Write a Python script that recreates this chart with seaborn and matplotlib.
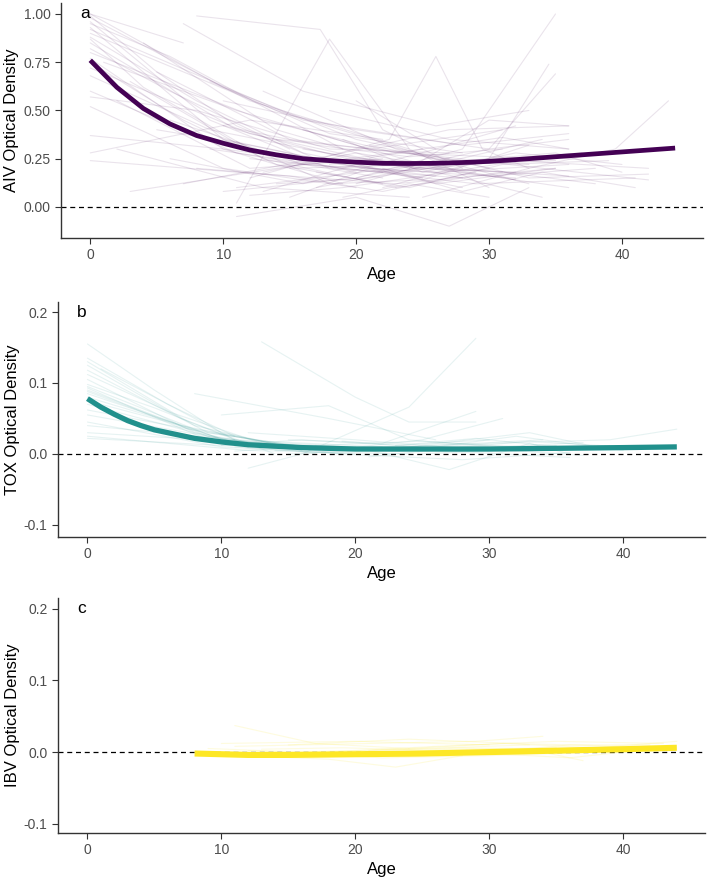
import pandas as pd
import matplotlib
matplotlib.use('Agg')
import matplotlib.pyplot as plt
import seaborn as sns
from matplotlib.ticker import FormatStrFormatter

# individual trajectories (age, optical density)
aiv_tracks = [
    [(0, 1.00), (7, 0.85)],
    [(0, 1.00), (10, 0.62), (20, 0.35), (30, 0.20)],
    [(0, 0.98), (12, 0.55), (24, 0.30)],
    [(0, 0.96), (9, 0.45), (18, 0.20), (28, 0.15)],
    [(0, 0.93), (10, 0.35), (22, 0.18)],
    [(0, 0.90), (14, 0.50), (26, 0.25), (33, 0.22)],
    [(0, 0.88), (8, 0.55), (16, 0.28), (25, 0.15)],
    [(0, 0.85), (11, 0.40), (21, 0.22), (31, 0.18)],
    [(0, 0.82), (6, 0.60), (15, 0.30)],
    [(0, 0.80), (13, 0.45), (23, 0.28), (34, 0.25)],
    [(0, 0.77), (10, 0.30), (19, 0.12)],
    [(0, 0.72), (12, 0.38), (24, 0.20)],
    [(0, 0.68), (9, 0.40), (20, 0.25), (29, 0.22)],
    [(0, 0.60), (11, 0.28), (22, 0.15)],
    [(0, 0.57), (8, 0.50), (18, 0.30), (27, 0.28)],
    [(0, 0.52), (10, 0.20), (20, 0.10)],
    [(0, 0.37), (10, 0.30), (21, 0.20), (32, 0.15)],
    [(0, 0.28), (12, 0.45), (22, 0.35)],
    [(0, 0.24), (11, 0.18), (23, 0.12), (35, 0.20)],
    [(0, 0.92), (16, 0.45), (28, 0.32), (36, 0.38)],
    [(3, 0.08), (14, 0.20), (25, 0.30)],
    [(2, 0.30), (13, 0.10), (24, 0.05)],
    [(4, 0.85), (14, 0.40), (24, 0.20), (32, 0.18)],
    [(5, 0.70), (15, 0.35), (27, 0.25)],
    [(8, 0.99), (17.3, 0.92), (22, 0.40), (28, 0.20)],
    [(11, 0.02), (18, 0.87), (24, 0.30), (30, 0.10)],
    [(7, 0.12), (17, 0.25), (27, 0.40), (36, 0.42)],
    [(10, 0.08), (20, 0.15), (30, 0.30), (35, 0.69)],
    [(11, -0.05), (20, 0.05), (27, -0.10), (33, 0.10)],
    [(12, 0.15), (22.5, 0.35), (26, 0.78), (29.5, 0.30), (33, 0.20)],
    [(20, 0.15), (28, 0.30), (35, 1.00)],
    [(22, 0.10), (30, 0.25), (34.5, 0.74)],
    [(25, 0.05), (33, 0.20), (39.5, 0.30), (43.5, 0.55)],
    [(10, 0.55), (20, 0.40), (30, 0.30), (36, 0.35)],
    [(6, 0.45), (16, 0.22), (26, 0.18), (36, 0.22)],
    [(9, 0.30), (19, 0.20), (29, 0.12), (41, 0.15)],
    [(12, 0.25), (22, 0.18), (32, 0.24), (42, 0.20)],
    [(14, 0.35), (24, 0.28), (34, 0.20), (42, 0.14)],
    [(15, 0.20), (25, 0.22), (35, 0.28), (40, 0.18)],
    [(16, 0.40), (26, 0.20), (36, 0.10)],
    [(13, 0.60), (23, 0.30), (33, 0.12)],
    [(18, 0.50), (27, 0.35), (36, 0.30)],
    [(3, 0.65), (13, 0.25), (23, 0.10)],
    [(1, 0.75), (11, 0.50), (21, 0.30), (31, 0.40)],
    [(19, 0.05), (24, 0.12), (30, 0.05)],
    [(21, 0.25), (28, 0.15), (34, 0.05)],
    [(17, 0.10), (26, 0.22), (34, 0.35)],
    [(9, 0.65), (18, 0.38), (28, 0.28)],
    [(6, 0.25), (16, 0.12), (26, 0.30)],
    [(2, 0.55), (12, 0.20), (22, 0.25)],
    [(24, 0.20), (30, 0.45), (36, 0.42)],
    [(15, 0.05), (21, 0.20), (28, 0.10)],
    [(7, 0.95), (16, 0.60), (26, 0.42), (33, 0.50)],
    [(20, 0.55), (26, 0.30), (32, 0.42)],
    [(23, 0.10), (31, 0.18), (38, 0.12)],
    [(0, 0.99), (5, 0.70), (11, 0.42), (17, 0.25)],
    [(0, 0.95), (6, 0.78), (13, 0.52), (19, 0.30)],
    [(0, 0.87), (4, 0.62), (12, 0.30), (20, 0.18)],
    [(0, 0.75), (7, 0.45), (14, 0.22), (22, 0.12)],
    [(11, 0.10), (18, 0.16), (25, 0.22), (32, 0.14)],
    [(12, 0.06), (19, 0.10), (27, 0.18), (34, 0.26)],
    [(13, 0.18), (20, 0.28), (27, 0.20), (36, 0.16)],
    [(14, 0.12), (21, 0.15), (29, 0.24), (37, 0.28)],
    [(16, 0.30), (23, 0.22), (30, 0.16), (38, 0.20)],
    [(17, 0.18), (24, 0.10), (31, 0.22), (39, 0.24)],
    [(18, 0.22), (25, 0.30), (31, 0.36), (36, 0.30)],
    [(19, 0.35), (25, 0.18), (32, 0.28), (40, 0.22)],
    [(20, 0.12), (27, 0.25), (33, 0.15), (42, 0.17)],
    [(21, 0.32), (28, 0.22), (35, 0.24)],
    [(22, 0.20), (28, 0.08), (34, 0.18), (41, 0.10)],
    [(10, 0.42), (17, 0.32), (24, 0.26), (31, 0.30)],
    [(8, 0.20), (15, 0.16), (22, 0.08), (29, 0.18)],
    [(5, 0.40), (12, 0.32), (19, 0.22), (26, 0.16)],
    [(11, 0.34), (18, 0.12), (25, 0.14), (33, 0.32)],
    [(13, 0.08), (20, 0.22), (26, 0.12), (35, 0.20)],
]

tox_tracks = [
    [(0, 0.155), (5, 0.09), (10, 0.03), (15, 0.01)],
    [(0, 0.135), (6, 0.07), (12, 0.01)],
    [(0, 0.130), (8, 0.04), (16, 0.005)],
    [(0, 0.125), (7, 0.05), (14, 0.00)],
    [(0, 0.118), (9, 0.03), (18, 0.005)],
    [(0, 0.112), (6, 0.06), (13, 0.015)],
    [(0, 0.105), (8, 0.03), (17, 0.0)],
    [(0, 0.095), (10, 0.02), (20, 0.005)],
    [(0, 0.090), (7, 0.04), (15, 0.01)],
    [(0, 0.088), (9, 0.025), (19, 0.0)],
    [(0, 0.085), (11, 0.015), (22, 0.005)],
    [(0, 0.080), (8, 0.035), (16, 0.008)],
    [(0, 0.070), (10, 0.02), (20, 0.01)],
    [(0, 0.062), (9, 0.03), (18, 0.005)],
    [(0, 0.055), (12, 0.015), (24, 0.005)],
    [(0, 0.045), (10, 0.01), (20, 0.0)],
    [(0, 0.040), (11, 0.02), (22, 0.01)],
    [(0, 0.030), (13, 0.015), (26, 0.005)],
    [(0, 0.025), (12, 0.005), (24, 0.0)],
    [(0, 0.022), (10, 0.012), (21, 0.008)],
    [(8, 0.085), (18, 0.05), (26, 0.02)],
    [(13, 0.158), (20, 0.08), (24, 0.045), (29, 0.045)],
    [(10, 0.055), (18, 0.068), (24, 0.02), (30, 0.01)],
    [(12, -0.02), (16, 0.0), (24, 0.066), (29, 0.163)],
    [(15, 0.02), (22, 0.015), (29, 0.06)],
    [(18, 0.005), (25, 0.02), (31, 0.05)],
    [(20, 0.01), (27, -0.022), (33, 0.015), (36, 0.0)],
    [(14, 0.005), (24, 0.01), (33, 0.03), (38, 0.01)],
    [(22, 0.005), (30, 0.015), (39, 0.02), (44, 0.035)],
    [(16, 0.01), (26, 0.005), (36, -0.005)],
    [(12, 0.03), (20, 0.02), (28, 0.008), (35, 0.012)],
    [(24, 0.005), (32, 0.025), (40, 0.005)],
    [(11, 0.01), (19, 0.00), (28, -0.008), (36, 0.002)],
    [(0, 0.093), (4, 0.06), (9, 0.02), (14, 0.008)],
    [(0, 0.098), (5, 0.065), (11, 0.02)],
    [(0, 0.075), (6, 0.045), (12, 0.01)],
    [(1, 0.120), (6, 0.07), (11, 0.025)],
    [(10, 0.012), (16, 0.02), (23, 0.012), (30, 0.02)],
    [(11, 0.004), (17, 0.012), (25, 0.018), (33, 0.008)],
    [(13, 0.015), (19, 0.008), (26, 0.012), (34, 0.02)],
    [(15, 0.0), (21, 0.006), (28, 0.015), (35, 0.006)],
    [(17, 0.012), (23, 0.004), (30, 0.01), (37, 0.016)],
    [(19, 0.018), (25, 0.01), (32, 0.004), (39, 0.012)],
    [(21, -0.004), (27, 0.008), (33, 0.018), (40, 0.01)],
    [(23, 0.012), (29, 0.022), (35, 0.01)],
    [(25, 0.0), (31, 0.006), (37, -0.002)],
]

ibv_tracks = [
    [(11, 0.037), (17, 0.012), (24, 0.005)],
    [(10, 0.012), (20, 0.015), (30, 0.01)],
    [(11, 0.008), (21, 0.012), (29, 0.015), (34, 0.022)],
    [(12, -0.005), (18, -0.01), (23, -0.021), (28, -0.005)],
    [(14, 0.0), (22, -0.008), (30, -0.005), (38, 0.0)],
    [(9, 0.005), (16, 0.0), (25, 0.005), (33, 0.01)],
    [(15, 0.01), (24, 0.018), (32, 0.012), (40, 0.008)],
    [(18, 0.0), (26, 0.008), (35, 0.015), (43, 0.012)],
    [(20, -0.005), (28, 0.0), (36, -0.008), (41, 0.002)],
    [(24, 0.005), (31, 0.012), (38, 0.006), (44, 0.015)],
    [(13, 0.004), (19, 0.006), (27, 0.002)],
    [(26, -0.003), (33, 0.004), (37, -0.012)],
    [(16, -0.006), (25, -0.004), (34, 0.0)],
    [(30, 0.0), (36, 0.01), (42, 0.01)],
    [(10, -0.004), (17, -0.002), (24, -0.006), (31, 0.0)],
    [(12, 0.002), (19, -0.004), (27, 0.004), (35, 0.006)],
    [(21, 0.002), (28, 0.006), (35, 0.004), (42, 0.008)],
]

# fitted population curves
aiv_fit_age = [0, 2, 4, 6, 8, 10, 12, 14, 16, 18, 20, 22, 24, 26, 28, 30, 32, 34, 36, 38, 40, 42, 44]
aiv_fit_od = [0.76, 0.62, 0.51, 0.43, 0.37, 0.33, 0.295, 0.27, 0.25, 0.24, 0.232, 0.226, 0.225, 0.226,
              0.23, 0.236, 0.245, 0.255, 0.265, 0.275, 0.285, 0.295, 0.305]
tox_fit_age = [0, 1, 2, 3, 4, 5, 6, 7, 8, 10, 12, 14, 16, 18, 20, 25, 30, 35, 40, 44]
tox_fit_od = [0.078, 0.066, 0.056, 0.047, 0.040, 0.034, 0.030, 0.026, 0.022, 0.017, 0.013, 0.011,
              0.009, 0.008, 0.007, 0.007, 0.007, 0.008, 0.009, 0.010]
ibv_fit_age = [8, 10, 12, 15, 20, 25, 30, 35, 40, 44]
ibv_fit_od = [-0.002, -0.003, -0.004, -0.004, -0.003, -0.002, 0.0, 0.002, 0.004, 0.006]


def tracks_to_df(tracks):
    rows = []
    for i, tr in enumerate(tracks):
        for age, od in tr:
            rows.append({'id': i, 'age': age, 'od': od})
    return pd.DataFrame(rows)


sns.set_theme(style="ticks")
plt.rcParams['font.family'] = ['Liberation Sans', 'DejaVu Sans']

fig = plt.figure(figsize=(7.08, 8.83), dpi=100)

panels = [
    ('a', 'AIV Optical Density', aiv_tracks, aiv_fit_age, aiv_fit_od, '#440154',
     [0.0862, 0.7305, 0.9068, 0.2661], (-0.161, 1.057), [0, 0.25, 0.5, 0.75, 1.0], '%.2f', 1.0, 0.11, 3.4),
    ('b', 'TOX Optical Density', tox_tracks, tox_fit_age, tox_fit_od, '#21908C',
     [0.0819, 0.3918, 0.9138, 0.2661], (-0.117, 0.214), [-0.1, 0.0, 0.1, 0.2], '%.1f', 0.2, 0.11, 3.8),
    ('c', 'IBV Optical Density', ibv_tracks, ibv_fit_age, ibv_fit_od, '#FDE725',
     [0.0819, 0.0566, 0.9138, 0.2661], (-0.113, 0.215), [-0.1, 0.0, 0.1, 0.2], '%.1f', 0.2, 0.15, 4.4),
]

for letter, ylab, tracks, fa, fo, col, pos, ylim, yticks, fmt, ytop, alpha, lw in panels:
    ax = fig.add_axes(pos)
    df = tracks_to_df(tracks)
    sns.lineplot(data=df, x='age', y='od', units='id', estimator=None,
                 color=col, alpha=alpha, lw=0.8, ax=ax)
    ax.axhline(0, color='black', ls='--', lw=0.9, dashes=(4, 3))
    sns.lineplot(x=fa, y=fo, color=col, lw=lw, ax=ax, solid_capstyle='butt')
    ax.set_xlim(-2.2, 46.1)
    ax.set_ylim(*ylim)
    ax.set_xticks([0, 10, 20, 30, 40])
    ax.set_yticks(yticks)
    ax.yaxis.set_major_formatter(FormatStrFormatter(fmt))
    ax.set_xlabel('Age', fontsize=12, color='black', labelpad=3)
    ax.set_ylabel(ylab, fontsize=12, color='black', labelpad=3)
    ax.tick_params(labelsize=10, labelcolor='#4D4D4D', color='#333333', length=4, width=0.8)
    for s in ['left', 'bottom']:
        ax.spines[s].set_color('#333333')
        ax.spines[s].set_linewidth(1.0)
    sns.despine(ax=ax)
    ax.text(-0.4, ytop, letter, fontsize=12.5, color='black', ha='center', va='center')

plt.savefig('out.png', dpi=100)
